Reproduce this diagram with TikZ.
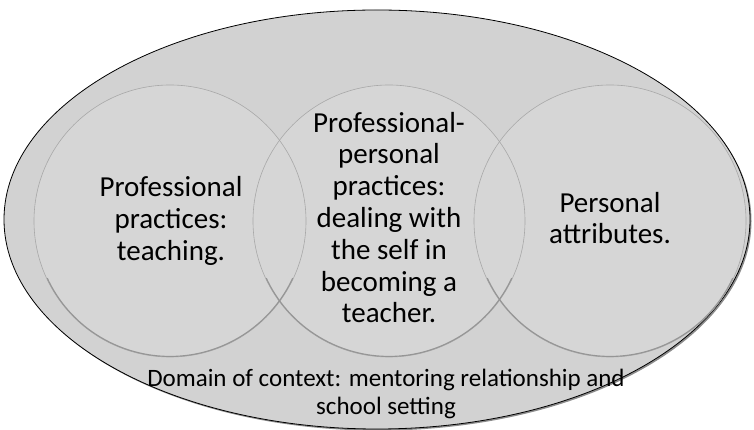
\documentclass[tikz,border=0pt]{standalone}
\usepackage{fontspec}
\setmainfont{Carlito}
\usetikzlibrary{shapes.geometric,calc}
\definecolor{elltop}{HTML}{D2D2D2}
\definecolor{cirtop}{HTML}{D6D6D6}
\definecolor{cirline}{HTML}{A8A8A8}
\definecolor{cirshade}{HTML}{959595}
\definecolor{shadecol}{HTML}{8C8C8C}
\tikzset{
  ctxbox/.style={ellipse, draw=black, line width=0.8pt, minimum width=746pt, minimum height=419pt,
    inner sep=0pt, fill=elltop},
  venn/.style={circle, minimum size=272pt, inner sep=0pt, fill=cirtop},
  vennline/.style={draw=cirline, line width=0.6pt},
  vennshade/.style={draw=cirshade, line width=1.1pt},
  bigtxt/.style={font=\fontsize{29}{31.8}\selectfont, align=center, text=black},
  smalltxt/.style={font=\fontsize{25}{28.5}\selectfont, align=center, text=black}
}
\begin{document}
\begin{tikzpicture}[x=1pt, y=1pt]
\useasboundingbox (0,0) rectangle (754,430);
\coordinate (domc) at (377,210.5);
\fill[shadecol] ($(domc)+(1.5,-1.6)$) ellipse[x radius=373pt, y radius=209.5pt];
\node[ctxbox] (dom) at (domc) {};
\node[venn] (c1) at (170,209) {};
\node[venn] (c2) at (389,209) {};
\node[venn] (c3) at (610,209) {};
\draw[vennline] (c1.center) circle[radius=136pt];
\draw[vennline] (c2.center) circle[radius=136pt];
\draw[vennline] (c3.center) circle[radius=136pt];
\draw[vennshade] (c1.center) ++(205:135.4) arc[start angle=205, end angle=335, radius=135.4pt];
\draw[vennshade] (c2.center) ++(205:135.4) arc[start angle=205, end angle=335, radius=135.4pt];
\draw[vennshade] (c3.center) ++(205:135.4) arc[start angle=205, end angle=335, radius=135.4pt];
\node[bigtxt] (t1) at (171,209.3) {Professional\\practices:\\teaching.};
\node[bigtxt] (t2) at (389,212.5) {Professional-\\personal\\practices:\\dealing with\\the self in\\becoming a\\teacher.};
\node[bigtxt] (t3) at (610,212) {Personal\\attributes.};
\node[smalltxt] (t4) at (386,36) {Domain of context: mentoring relationship and\\school setting};
\end{tikzpicture}
\end{document}
